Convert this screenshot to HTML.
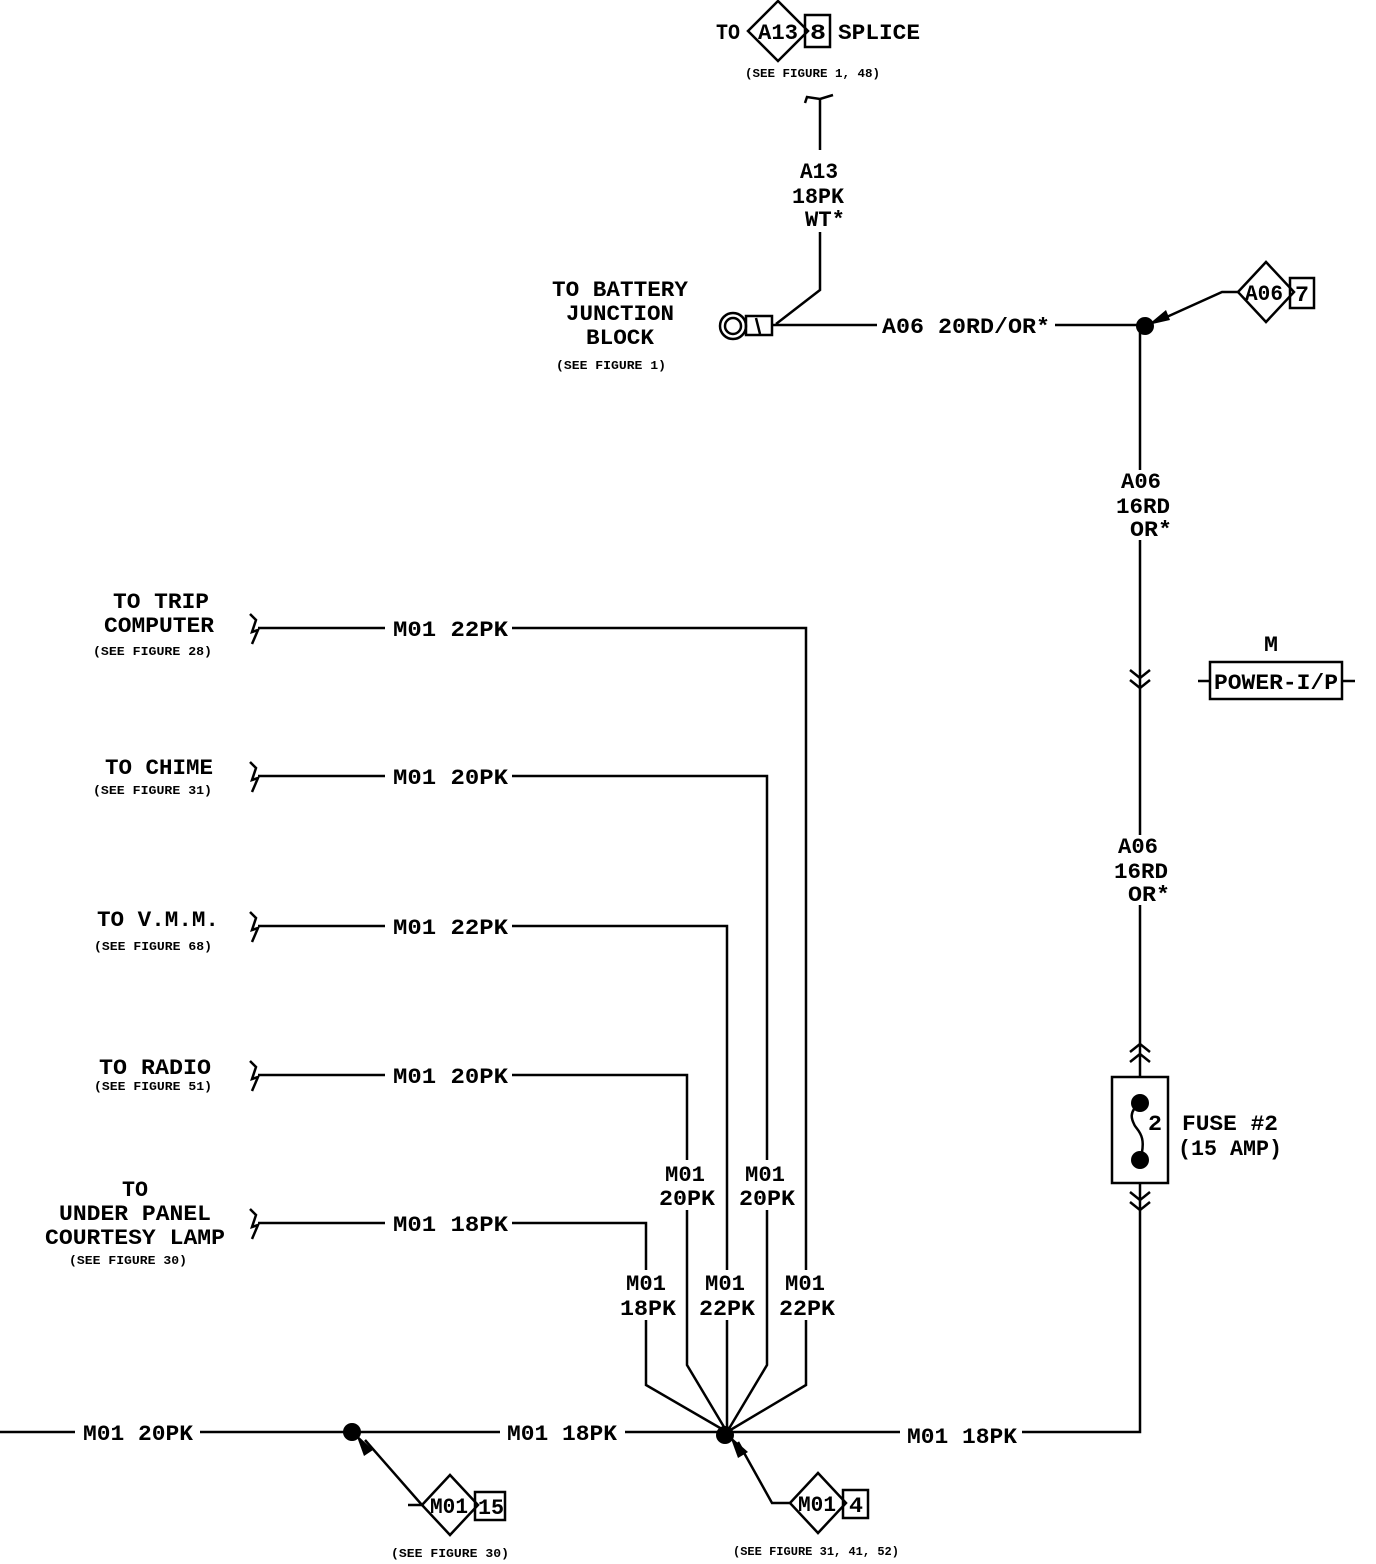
<!DOCTYPE html>
<html><head><meta charset="utf-8"><style>
html,body{margin:0;padding:0;background:#fff}
svg{display:block}
text{font-family:"Liberation Mono",monospace;font-weight:bold;fill:#000}
.s{font-family:"Liberation Sans",sans-serif;font-size:12px;font-weight:bold}
.t{font-size:22px}
</style></head><body>
<svg width="1376" height="1564" viewBox="0 0 1376 1564" xmlns="http://www.w3.org/2000/svg">
<g stroke="#000" stroke-width="2.5" fill="none">
<polygon points="748,31 778,1 808,31 778,61"/>
<rect x="805" y="15" width="25" height="32"/>
<path d="M805,103 L807,97 L820,99 L833,95"/>
<path d="M820,99 V150 M820,232 V290 L776,324"/>
<circle cx="733" cy="326" r="13"/><circle cx="733" cy="326" r="8"/>
<rect x="746" y="316" width="26" height="19"/>
<path d="M756,318 L760,334"/>
<path d="M772,325 H877 M1055,325 H1140"/>
<path d="M1238,292 H1222 L1160,320"/>
<polygon points="1238,292 1266,262 1294,292 1266,322"/>
<rect x="1290" y="278" width="24" height="30"/>
<path d="M1140,330 V470 M1140,540 V835 M1140,905 V1077 M1140,1183 V1432 H1022"/>
<path d="M1130,670 L1140,678 L1150,670 M1130,680 L1140,688 L1150,680"/>
<path d="M1130,1052 L1140,1044 L1150,1052 M1130,1062 L1140,1054 L1150,1062"/>
<path d="M1130,1192 L1140,1200 L1150,1192 M1130,1202 L1140,1210 L1150,1202"/>
<rect x="1112" y="1077" width="56" height="106"/>
<path d="M1140,1103 C1128,1112 1132,1120 1134,1124 C1136,1130 1148,1134 1140,1160"/>
<path d="M1198,681 H1210 M1342,681 H1355"/>
<rect x="1210" y="662" width="132" height="37"/>
<path d="M250,614 L256,620 L252,632 L258,630 L252,644 M258,628 H385 M512,628 H806 V1270 M806,1320 V1385 L727,1432"/>
<path d="M250,762 L256,768 L252,780 L258,778 L252,792 M258,776 H385 M512,776 H767 V1160 M767,1210 V1365 L727,1432"/>
<path d="M250,912 L256,918 L252,930 L258,928 L252,942 M258,926 H385 M512,926 H727 V1270 M727,1320 V1432"/>
<path d="M250,1061 L256,1067 L252,1079 L258,1077 L252,1091 M258,1075 H385 M512,1075 H687 V1160 M687,1210 V1365 L727,1432"/>
<path d="M250,1209 L256,1215 L252,1227 L258,1225 L252,1239 M258,1223 H385 M512,1223 H646 V1270 M646,1320 V1385 L727,1432"/>
<path d="M0,1432 H75 M200,1432 H500 M625,1432 H900"/>
<path d="M408,1505 H422 L365,1440"/>
<polygon points="422,1505 450,1475 478,1505 450,1535"/>
<rect x="475" y="1492" width="30" height="28"/>
<path d="M790,1503 H772 L738,1442"/>
<polygon points="790,1503 818,1473 846,1503 818,1533"/>
<rect x="843" y="1490" width="25" height="28"/>
</g>
<g fill="#000">
<circle cx="1145" cy="326" r="9"/>
<polygon points="1148,325 1166,310 1170,320"/>
<circle cx="1140" cy="1103" r="9"/><circle cx="1140" cy="1160" r="9"/>
<circle cx="352" cy="1432" r="9"/>
<polygon points="356,1434 373,1450 364,1456"/>
<circle cx="725" cy="1435" r="9"/>
<polygon points="730,1436 748,1452 738,1458"/>
</g>
<g class="t">
<text x="716" y="39" textLength="24" lengthAdjust="spacingAndGlyphs">TO</text>
<text x="758" y="39" textLength="40" lengthAdjust="spacingAndGlyphs">A13</text>
<text x="810" y="39" textLength="16" lengthAdjust="spacingAndGlyphs">8</text>
<text x="838" y="39" textLength="82" lengthAdjust="spacingAndGlyphs">SPLICE</text>
<text x="800" y="178" textLength="38" lengthAdjust="spacingAndGlyphs">A13</text>
<text x="792" y="203" textLength="52" lengthAdjust="spacingAndGlyphs">18PK</text>
<text x="805" y="226" textLength="40" lengthAdjust="spacingAndGlyphs">WT*</text>
<text x="552" y="296" textLength="136" lengthAdjust="spacingAndGlyphs">TO BATTERY</text>
<text x="566" y="320" textLength="108" lengthAdjust="spacingAndGlyphs">JUNCTION</text>
<text x="586" y="344" textLength="68" lengthAdjust="spacingAndGlyphs">BLOCK</text>
<text x="882" y="333" textLength="168" lengthAdjust="spacingAndGlyphs">A06 20RD/OR*</text>
<text x="1245" y="300" textLength="38" lengthAdjust="spacingAndGlyphs">A06</text>
<text x="1295" y="301" textLength="14" lengthAdjust="spacingAndGlyphs">7</text>
<text x="1121" y="488" textLength="40" lengthAdjust="spacingAndGlyphs">A06</text>
<text x="1116" y="513" textLength="54" lengthAdjust="spacingAndGlyphs">16RD</text>
<text x="1130" y="536" textLength="42" lengthAdjust="spacingAndGlyphs">OR*</text>
<text x="1118" y="853" textLength="40" lengthAdjust="spacingAndGlyphs">A06</text>
<text x="1114" y="878" textLength="54" lengthAdjust="spacingAndGlyphs">16RD</text>
<text x="1128" y="901" textLength="42" lengthAdjust="spacingAndGlyphs">OR*</text>
<text x="1264" y="651" textLength="14" lengthAdjust="spacingAndGlyphs">M</text>
<text x="1214" y="689" textLength="124" lengthAdjust="spacingAndGlyphs">POWER-I/P</text>
<text x="1148" y="1130" textLength="14" lengthAdjust="spacingAndGlyphs">2</text>
<text x="1182" y="1130" textLength="96" lengthAdjust="spacingAndGlyphs">FUSE #2</text>
<text x="1178" y="1155" textLength="104" lengthAdjust="spacingAndGlyphs">(15 AMP)</text>
<text x="113" y="608" textLength="96" lengthAdjust="spacingAndGlyphs">TO TRIP</text>
<text x="104" y="632" textLength="110" lengthAdjust="spacingAndGlyphs">COMPUTER</text>
<text x="105" y="774" textLength="108" lengthAdjust="spacingAndGlyphs">TO CHIME</text>
<text x="97" y="926" textLength="122" lengthAdjust="spacingAndGlyphs">TO V.M.M.</text>
<text x="99" y="1074" textLength="112" lengthAdjust="spacingAndGlyphs">TO RADIO</text>
<text x="122" y="1196" textLength="26" lengthAdjust="spacingAndGlyphs">TO</text>
<text x="59" y="1220" textLength="152" lengthAdjust="spacingAndGlyphs">UNDER PANEL</text>
<text x="45" y="1244" textLength="180" lengthAdjust="spacingAndGlyphs">COURTESY LAMP</text>
<text x="393" y="636" textLength="115" lengthAdjust="spacingAndGlyphs">M01 22PK</text>
<text x="393" y="784" textLength="115" lengthAdjust="spacingAndGlyphs">M01 20PK</text>
<text x="393" y="934" textLength="115" lengthAdjust="spacingAndGlyphs">M01 22PK</text>
<text x="393" y="1083" textLength="115" lengthAdjust="spacingAndGlyphs">M01 20PK</text>
<text x="393" y="1231" textLength="115" lengthAdjust="spacingAndGlyphs">M01 18PK</text>
<text x="665" y="1181" textLength="40" lengthAdjust="spacingAndGlyphs">M01</text>
<text x="659" y="1205" textLength="56" lengthAdjust="spacingAndGlyphs">20PK</text>
<text x="745" y="1181" textLength="40" lengthAdjust="spacingAndGlyphs">M01</text>
<text x="739" y="1205" textLength="56" lengthAdjust="spacingAndGlyphs">20PK</text>
<text x="626" y="1290" textLength="40" lengthAdjust="spacingAndGlyphs">M01</text>
<text x="620" y="1315" textLength="56" lengthAdjust="spacingAndGlyphs">18PK</text>
<text x="705" y="1290" textLength="40" lengthAdjust="spacingAndGlyphs">M01</text>
<text x="699" y="1315" textLength="56" lengthAdjust="spacingAndGlyphs">22PK</text>
<text x="785" y="1290" textLength="40" lengthAdjust="spacingAndGlyphs">M01</text>
<text x="779" y="1315" textLength="56" lengthAdjust="spacingAndGlyphs">22PK</text>
<text x="83" y="1440" textLength="110" lengthAdjust="spacingAndGlyphs">M01 20PK</text>
<text x="507" y="1440" textLength="110" lengthAdjust="spacingAndGlyphs">M01 18PK</text>
<text x="907" y="1443" textLength="110" lengthAdjust="spacingAndGlyphs">M01 18PK</text>
<text x="430" y="1513" textLength="38" lengthAdjust="spacingAndGlyphs">M01</text>
<text x="478" y="1514" textLength="26" lengthAdjust="spacingAndGlyphs">15</text>
<text x="798" y="1511" textLength="38" lengthAdjust="spacingAndGlyphs">M01</text>
<text x="849" y="1512" textLength="14" lengthAdjust="spacingAndGlyphs">4</text>
</g>
<g class="s">
<text x="745" y="77" textLength="135" lengthAdjust="spacingAndGlyphs">(SEE FIGURE 1, 48)</text>
<text x="556" y="369" textLength="110" lengthAdjust="spacingAndGlyphs">(SEE FIGURE 1)</text>
<text x="93" y="655" textLength="119" lengthAdjust="spacingAndGlyphs">(SEE FIGURE 28)</text>
<text x="93" y="794" textLength="119" lengthAdjust="spacingAndGlyphs">(SEE FIGURE 31)</text>
<text x="94" y="950" textLength="118" lengthAdjust="spacingAndGlyphs">(SEE FIGURE 68)</text>
<text x="94" y="1090" textLength="118" lengthAdjust="spacingAndGlyphs">(SEE FIGURE 51)</text>
<text x="69" y="1264" textLength="118" lengthAdjust="spacingAndGlyphs">(SEE FIGURE 30)</text>
<text x="391" y="1557" textLength="118" lengthAdjust="spacingAndGlyphs">(SEE FIGURE 30)</text>
<text x="733" y="1555" textLength="166" lengthAdjust="spacingAndGlyphs">(SEE FIGURE 31, 41, 52)</text>
</g>
</svg>
</body></html>
